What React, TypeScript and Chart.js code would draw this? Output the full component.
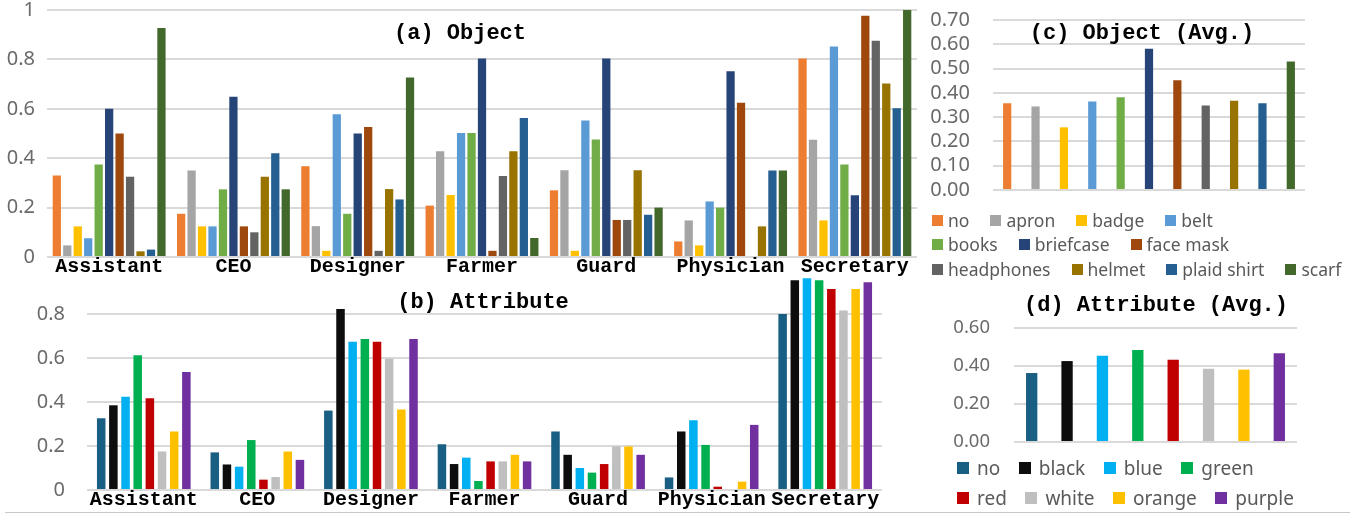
import React, { useEffect, useRef } from 'react';
import { Chart, registerables } from 'chart.js';

Chart.register(...registerables);

// ---------- data ----------
const professions = ['Assistant', 'CEO', 'Designer', 'Farmer', 'Guard', 'Physician', 'Secretary'];

const objectNames = ['no', 'apron', 'badge', 'belt', 'books', 'briefcase', 'face mask', 'headphones', 'helmet', 'plaid shirt', 'scarf'];
const objectColors = ['#ED7D31', '#A5A5A5', '#FFC000', '#5B9BD5', '#70AD47', '#264478', '#9E480E', '#636363', '#997300', '#255E91', '#43682B'];

const objNo = [0.33, 0.175, 0.367, 0.208, 0.27, 0.063, 0.804];
const objApron = [0.047, 0.35, 0.125, 0.428, 0.351, 0.148, 0.475];
const objBadge = [0.124, 0.124, 0.025, 0.251, 0.025, 0.047, 0.148];
const objBelt = [0.076, 0.124, 0.578, 0.502, 0.553, 0.225, 0.852];
const objBooks = [0.375, 0.274, 0.175, 0.502, 0.476, 0.2, 0.375];
const objBriefcase = [0.6, 0.649, 0.5, 0.804, 0.804, 0.752, 0.25];
const objFaceMask = [0.5, 0.124, 0.526, 0.025, 0.15, 0.625, 0.977];
const objHeadphones = [0.325, 0.1, 0.025, 0.328, 0.15, 0, 0.876];
const objHelmet = [0.023, 0.325, 0.275, 0.428, 0.351, 0.124, 0.702];
const objPlaidShirt = [0.03, 0.42, 0.233, 0.563, 0.171, 0.35, 0.602];
const objScarf = [0.927, 0.274, 0.727, 0.077, 0.2, 0.35, 1.0];
const objectSeries = [objNo, objApron, objBadge, objBelt, objBooks, objBriefcase, objFaceMask, objHeadphones, objHelmet, objPlaidShirt, objScarf];

const attrNames = ['no', 'black', 'blue', 'green', 'red', 'white', 'orange', 'purple'];
const attrColors = ['#195E83', '#0D0D0D', '#00B0F0', '#00B050', '#C00000', '#BFBFBF', '#FFC000', '#7030A0'];

const attrNo = [0.326, 0.171, 0.361, 0.208, 0.266, 0.057, 0.8];
const attrBlack = [0.385, 0.116, 0.823, 0.118, 0.16, 0.266, 0.953];
const attrBlue = [0.424, 0.106, 0.674, 0.147, 0.1, 0.317, 0.962];
const attrGreen = [0.613, 0.227, 0.686, 0.041, 0.079, 0.205, 0.953];
const attrRed = [0.417, 0.047, 0.674, 0.13, 0.118, 0.015, 0.914];
const attrWhite = [0.175, 0.059, 0.597, 0.13, 0.198, 0, 0.816];
const attrOrange = [0.266, 0.175, 0.366, 0.16, 0.198, 0.038, 0.914];
const attrPurple = [0.536, 0.137, 0.686, 0.13, 0.16, 0.296, 0.944];
const attrSeries = [attrNo, attrBlack, attrBlue, attrGreen, attrRed, attrWhite, attrOrange, attrPurple];

const objAvg = [0.357, 0.344, 0.258, 0.364, 0.382, 0.582, 0.452, 0.348, 0.368, 0.357, 0.529];
const attrAvg = [0.363, 0.426, 0.454, 0.484, 0.433, 0.386, 0.381, 0.467];

const objLegendRows = [4, 3, 4];
const attrLegendRows = [4, 4];

const titleA = '(a) Object';
const titleB = '(b) Attribute';
const titleC = '(c) Object (Avg.)';
const titleD = '(d) Attribute (Avg.)';

// ---------- styling ----------
const SANS = "'Noto Sans', 'Open Sans', sans-serif";
const MONO = "'Courier New', 'Liberation Mono', monospace";
const TICK_COLOR = '#6a6a6a';
const GRID_COLOR = '#d9d9d9';
const LEGEND_COLOR = '#595959';

function fixAxis(width?: number, height?: number) {
  return (s: any) => {
    if (width !== undefined) s.width = width;
    if (height !== undefined) s.height = height;
    s.paddingTop = 0;
    s.paddingBottom = 0;
    s.paddingLeft = 0;
    s.paddingRight = 0;
  };
}

function groupedConfig(
  series: number[][], names: string[], colors: string[],
  catPct: number, barPct: number, yWidth: number, yPad: number,
  padding: any, xHeight: number, hideTop: boolean,
) {
  return {
    type: 'bar',
    data: {
      labels: professions,
      datasets: series.map((data, i) => ({
        label: names[i],
        data,
        backgroundColor: colors[i],
        borderWidth: 0,
        categoryPercentage: catPct,
        barPercentage: barPct,
      })),
    },
    options: {
      animation: false,
      responsive: true,
      maintainAspectRatio: false,
      layout: { padding },
      plugins: { legend: { display: false }, tooltip: { enabled: false }, title: { display: false } },
      scales: {
        x: {
          grid: { display: false, drawTicks: false },
          border: { display: false },
          ticks: {
            color: '#000', autoSkip: false, maxRotation: 0, minRotation: 0, padding: 0,
            font: { family: MONO, size: 20, weight: 'bold', lineHeight: 1 },
          },
          afterFit: fixAxis(undefined, xHeight),
        },
        y: {
          min: 0,
          max: 1,
          grid: {
            lineWidth: 2,
            drawTicks: false,
            color: (ctx: any) => (hideTop && ctx.tick && ctx.tick.value > 0.99 ? 'rgba(0,0,0,0)' : GRID_COLOR),
          },
          border: { display: false },
          ticks: {
            stepSize: 0.2,
            padding: yPad,
            color: TICK_COLOR,
            font: { family: SANS, size: 20, lineHeight: 1 },
            callback: (v: number) => (hideTop && v > 0.99 ? '' : v === 0 ? '0' : v >= 0.999 ? '1' : v.toFixed(1)),
          },
          afterFit: fixAxis(yWidth),
        },
      },
    },
  };
}

function avgConfig(
  labels: string[], values: number[], colors: string[], barPct: number,
  max: number, step: number, yWidth: number, yPad: number, fontSize: number, padding: any,
) {
  return {
    type: 'bar',
    data: {
      labels,
      datasets: [{ label: 'Avg.', data: values, backgroundColor: colors, borderWidth: 0, categoryPercentage: 1, barPercentage: barPct }],
    },
    options: {
      animation: false,
      responsive: true,
      maintainAspectRatio: false,
      layout: { padding },
      plugins: { legend: { display: false }, tooltip: { enabled: false }, title: { display: false } },
      scales: {
        x: { display: false },
        y: {
          min: 0,
          max,
          grid: { lineWidth: 2, drawTicks: false, color: GRID_COLOR },
          border: { display: false },
          ticks: {
            stepSize: step,
            padding: yPad,
            color: TICK_COLOR,
            font: { family: SANS, size: fontSize, lineHeight: 1 },
            callback: (v: number) => v.toFixed(2),
          },
          afterFit: fixAxis(yWidth),
        },
      },
    },
  };
}

type Box = { left: number; top: number; width: number; height: number };

function ChartBox({ box, config }: { box: Box; config: () => any }) {
  const ref = useRef<HTMLCanvasElement | null>(null);
  useEffect(() => {
    if (!ref.current) return;
    const chart = new Chart(ref.current, config());
    return () => chart.destroy();
  }, []);
  return (
    <div style={{ position: 'absolute', left: box.left, top: box.top, width: box.width, height: box.height }}>
      <canvas ref={ref} />
    </div>
  );
}

function Title({ text, cx, cy }: { text: string; cx: number; cy: number }) {
  return (
    <div
      style={{
        position: 'absolute', left: cx, top: cy, transform: 'translate(-50%, -50%)',
        fontFamily: MONO, fontWeight: 'bold', fontSize: 22, lineHeight: '22px',
        whiteSpace: 'pre', color: '#000',
      }}
    >
      {text}
    </div>
  );
}

function Legend(props: {
  names: string[]; colors: string[]; rows: number[]; left: number; top: number;
  rowHeight: number; fontSize: number; boxSize: number; boxGap: number; itemGap: number;
}) {
  const { names, colors, rows, left, top, rowHeight, fontSize, boxSize, boxGap, itemGap } = props;
  const starts = rows.map((_, r) => rows.slice(0, r).reduce((a, b) => a + b, 0));
  return (
    <div style={{ position: 'absolute', left, top }}>
      {rows.map((count, r) => (
        <div key={r} style={{ display: 'flex', alignItems: 'center', height: rowHeight, whiteSpace: 'nowrap' }}>
          {names.slice(starts[r], starts[r] + count).map((n, k) => (
            <div key={n} style={{ display: 'flex', alignItems: 'center', marginRight: itemGap }}>
              <span style={{ display: 'inline-block', width: boxSize, height: boxSize, background: colors[starts[r] + k], marginRight: boxGap }} />
              <span style={{ fontFamily: SANS, fontSize, color: LEGEND_COLOR, lineHeight: 1 }}>{n}</span>
            </div>
          ))}
        </div>
      ))}
    </div>
  );
}

export default function App() {
  return (
    <div style={{ position: 'fixed', left: 0, top: 0, width: 1362, height: 515, background: '#fff', overflow: 'hidden' }}>
      <ChartBox
        box={{ left: 0, top: 0, width: 922, height: 286 }}
        config={() => groupedConfig(objectSeries, objectNames, objectColors, 0.926, 0.79, 47, 12, { left: 0, right: 5, top: 10, bottom: 0 }, 29, false)}
      />
      <ChartBox
        box={{ left: 0, top: 262, width: 900, height: 253 }}
        config={() => groupedConfig(attrSeries, attrNames, attrColors, 0.857, 0.7, 87, 22, { left: 0, right: 18, top: 8, bottom: 0 }, 25, true)}
      />
      <ChartBox
        box={{ left: 920, top: 0, width: 442, height: 200 }}
        config={() => avgConfig(objectNames, objAvg, objectColors, 0.29, 0.7, 0.1, 73, 23, 20, { left: 0, right: 57, top: 20, bottom: 10 })}
      />
      <ChartBox
        box={{ left: 900, top: 310, width: 462, height: 145 }}
        config={() => avgConfig(attrNames, attrAvg, attrColors, 0.32, 0.6, 0.2, 114, 24, 18.5, { left: 0, right: 65, top: 18, bottom: 13 })}
      />
      <Title text={titleA} cx={460} cy={34} />
      <Title text={titleB} cx={483} cy={303} />
      <Title text={titleC} cx={1142} cy={34} />
      <Title text={titleD} cx={1156} cy={306} />
      <Legend names={objectNames} colors={objectColors} rows={objLegendRows} left={932} top={208} rowHeight={24.5} fontSize={17.5} boxSize={11} boxGap={5} itemGap={21} />
      <Legend names={attrNames} colors={attrColors} rows={attrLegendRows} left={957} top={453} rowHeight={30} fontSize={19} boxSize={12} boxGap={8} itemGap={18.5} />
      <div style={{ position: 'absolute', left: 5, top: 512, width: 1345, height: 1, background: '#c8c8c8' }} />
    </div>
  );
}
